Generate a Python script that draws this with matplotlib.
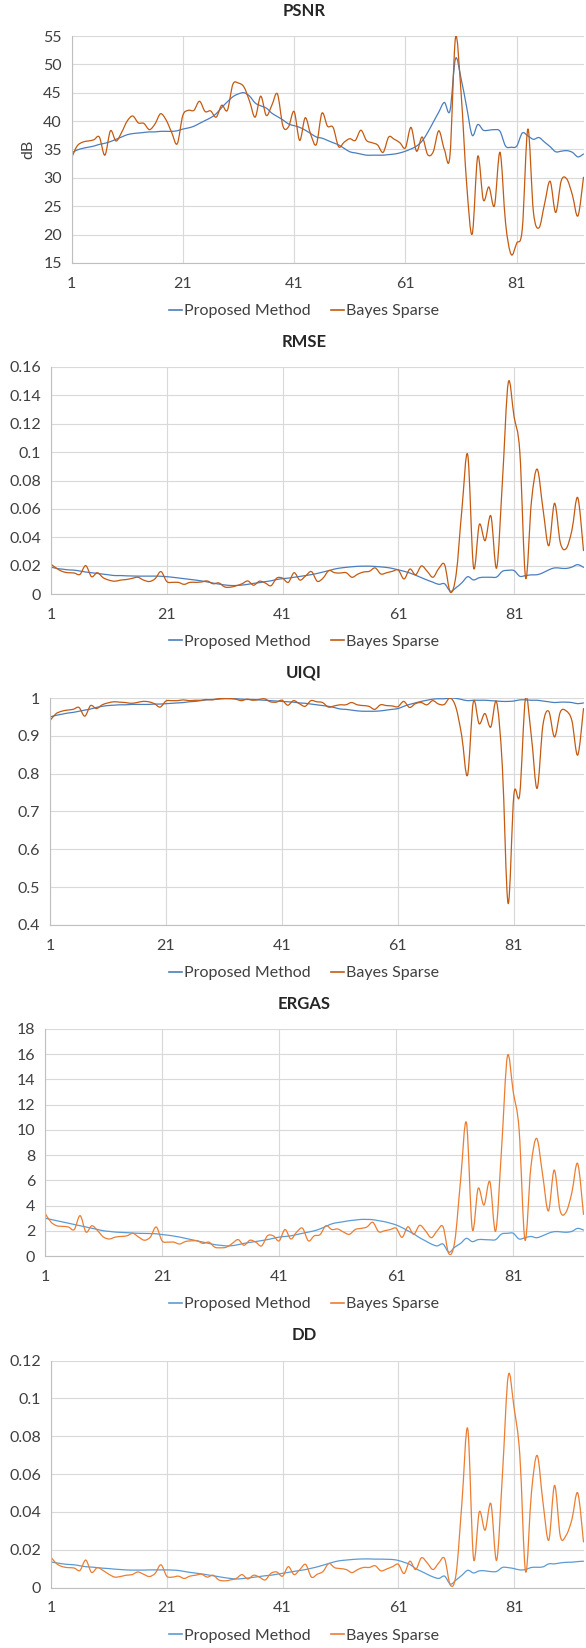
import numpy as np
import matplotlib
matplotlib.use("Agg")
import matplotlib.pyplot as plt
from matplotlib.path import Path
from matplotlib.patches import PathPatch
from matplotlib.lines import Line2D

plt.rcParams['font.family'] = ['Lato', 'DejaVu Sans']

frames = list(range(1, 94))
x_ticks = [1, 21, 41, 61, 81]
series_names = ['Proposed Method', 'Bayes Sparse']

psnr_proposed = [34.4, 34.9, 35.2, 35.4, 35.6, 35.9, 36.1, 36.4, 36.8, 37.2,
                 37.6, 37.8, 37.9, 38.0, 38.1, 38.1, 38.2, 38.2, 38.2, 38.3,
                 38.6, 38.8, 39.1, 39.6, 40.1, 40.6, 41.3, 42.4, 43.4, 44.3,
                 44.8, 45.0, 44.4, 43.2, 42.7, 42.3, 41.4, 40.8, 40.2, 39.5,
                 39.2, 38.9, 38.4, 37.8, 37.2, 37.0, 36.6, 36.2, 35.8, 35.2,
                 34.6, 34.4, 34.2, 34.0, 34.0, 34.0, 34.0, 34.1, 34.2, 34.4,
                 34.7, 35.1, 35.6, 36.5, 38.0, 39.8, 41.6, 43.3, 41.8, 51.0,
                 47.5, 42.5, 37.5, 39.4, 38.4, 38.4, 38.5, 38.2, 35.6, 35.4,
                 35.6, 37.9, 37.4, 36.8, 37.1, 36.3, 35.5, 34.6, 34.7, 34.8,
                 34.5, 33.7, 34.2]
psnr_bayes = [33.5, 35.6, 36.3, 36.5, 36.7, 37.2, 34.0, 38.3, 36.5, 38.0,
              40.0, 40.9, 39.7, 39.6, 38.5, 39.5, 41.3, 40.2, 38.0, 36.0,
              41.0, 41.9, 41.9, 43.5, 41.7, 41.8, 40.7, 42.8, 41.9, 46.5,
              46.7, 46.0, 43.5, 40.7, 44.4, 41.0, 42.8, 44.8, 39.1, 39.0,
              41.7, 36.6, 40.6, 37.6, 35.9, 41.4, 39.1, 38.9, 35.5, 36.3,
              36.9, 36.6, 38.4, 36.6, 36.2, 35.8, 34.5, 37.2, 36.8, 36.2,
              35.3, 38.9, 34.7, 37.2, 34.1, 34.6, 38.3, 35.0, 33.9, 54.7,
              45.0, 29.0, 20.1, 33.8, 26.1, 28.4, 25.1, 34.5, 22.0, 16.5,
              18.5, 21.0, 38.6, 24.0, 21.2, 25.4, 29.4, 23.9, 29.5, 29.8,
              27.0, 23.3, 30.1]

rmse_proposed = [0.0190, 0.0180, 0.0175, 0.0170, 0.0168, 0.0162, 0.0155, 0.0150, 0.0145, 0.0140,
                 0.0135, 0.0130, 0.0130, 0.0128, 0.0127, 0.0126, 0.0126, 0.0126, 0.0126, 0.0125,
                 0.0122, 0.0118, 0.0113, 0.0108, 0.0103, 0.0098, 0.0092, 0.0085, 0.0077, 0.0070,
                 0.0064, 0.0060, 0.0060, 0.0063, 0.0068, 0.0075, 0.0080, 0.0087, 0.0093, 0.0102,
                 0.0108, 0.0112, 0.0118, 0.0124, 0.0130, 0.0137, 0.0145, 0.0155, 0.0165, 0.0176,
                 0.0183, 0.0188, 0.0192, 0.0195, 0.0196, 0.0196, 0.0194, 0.0191, 0.0187, 0.0180,
                 0.0170, 0.0160, 0.0148, 0.0132, 0.0115, 0.0098, 0.0083, 0.0068, 0.0072, 0.0020,
                 0.0045, 0.0080, 0.0122, 0.0099, 0.0115, 0.0118, 0.0118, 0.0120, 0.0160, 0.0167,
                 0.0165, 0.0125, 0.0130, 0.0135, 0.0136, 0.0150, 0.0170, 0.0184, 0.0182, 0.0180,
                 0.0190, 0.0207, 0.0188]
rmse_bayes = [0.0210, 0.0180, 0.0158, 0.0150, 0.0148, 0.0138, 0.0200, 0.0122, 0.0150, 0.0115,
              0.0098, 0.0090, 0.0098, 0.0102, 0.0110, 0.0118, 0.0098, 0.0088, 0.0108, 0.0158,
              0.0088, 0.0082, 0.0082, 0.0068, 0.0082, 0.0082, 0.0085, 0.0092, 0.0072, 0.0078,
              0.0050, 0.0048, 0.0058, 0.0072, 0.0092, 0.0062, 0.0090, 0.0078, 0.0058, 0.0112,
              0.0112, 0.0082, 0.0150, 0.0098, 0.0128, 0.0158, 0.0090, 0.0112, 0.0165, 0.0150,
              0.0148, 0.0150, 0.0118, 0.0140, 0.0155, 0.0160, 0.0184, 0.0141, 0.0150, 0.0160,
              0.0169, 0.0106, 0.0176, 0.0136, 0.0198, 0.0160, 0.0118, 0.0180, 0.0207, 0.0012,
              0.0140, 0.0600, 0.0980, 0.0188, 0.0490, 0.0376, 0.0550, 0.0184, 0.0800, 0.1490,
              0.1250, 0.1000, 0.0113, 0.0650, 0.0880, 0.0600, 0.0340, 0.0640, 0.0360, 0.0320,
              0.0450, 0.0680, 0.0306]

uiqi_proposed = [0.950, 0.954, 0.957, 0.960, 0.962, 0.965, 0.968, 0.971, 0.975, 0.978,
                 0.980, 0.981, 0.982, 0.982, 0.983, 0.983, 0.983, 0.983, 0.984, 0.984,
                 0.985, 0.986, 0.987, 0.988, 0.990, 0.991, 0.993, 0.995, 0.996, 0.997,
                 0.998, 0.998, 0.998, 0.997, 0.996, 0.996, 0.995, 0.994, 0.993, 0.992,
                 0.991, 0.990, 0.989, 0.987, 0.986, 0.984, 0.982, 0.980, 0.978, 0.975,
                 0.971, 0.970, 0.968, 0.966, 0.965, 0.965, 0.965, 0.966, 0.968, 0.970,
                 0.972, 0.978, 0.983, 0.987, 0.991, 0.994, 0.997, 0.998, 0.998, 1.000,
                 0.999, 0.996, 0.993, 0.994, 0.994, 0.994, 0.993, 0.992, 0.991, 0.991,
                 0.992, 0.995, 0.995, 0.994, 0.994, 0.992, 0.990, 0.988, 0.989, 0.989,
                 0.988, 0.985, 0.987]
uiqi_bayes = [0.940, 0.958, 0.965, 0.968, 0.970, 0.975, 0.952, 0.980, 0.972, 0.982,
              0.987, 0.990, 0.989, 0.988, 0.986, 0.988, 0.991, 0.990, 0.985, 0.976,
              0.992, 0.993, 0.993, 0.995, 0.993, 0.994, 0.994, 0.996, 0.995, 0.998,
              0.999, 0.999, 0.997, 0.993, 0.997, 0.994, 0.996, 0.998, 0.990, 0.989,
              0.994, 0.981, 0.993, 0.985, 0.978, 0.993, 0.990, 0.988, 0.976, 0.979,
              0.982, 0.982, 0.988, 0.982, 0.980, 0.978, 0.970, 0.982, 0.980, 0.979,
              0.977, 0.991, 0.975, 0.985, 0.988, 0.982, 0.993, 0.984, 0.983, 1.000,
              0.975, 0.900, 0.796, 0.990, 0.932, 0.959, 0.923, 0.990, 0.820, 0.457,
              0.745, 0.745, 1.000, 0.900, 0.761, 0.928, 0.965, 0.897, 0.963, 0.966,
              0.940, 0.849, 0.972]

ergas_proposed = [3.00, 2.90, 2.80, 2.70, 2.60, 2.50, 2.40, 2.30, 2.20, 2.10,
                  2.00, 1.95, 1.90, 1.87, 1.85, 1.82, 1.80, 1.79, 1.78, 1.76,
                  1.70, 1.65, 1.58, 1.50, 1.40, 1.30, 1.20, 1.10, 1.00, 0.90,
                  0.85, 0.80, 0.82, 0.90, 1.00, 1.08, 1.15, 1.22, 1.30, 1.40,
                  1.50, 1.55, 1.60, 1.70, 1.80, 1.90, 2.00, 2.15, 2.35, 2.55,
                  2.65, 2.72, 2.80, 2.85, 2.90, 2.90, 2.88, 2.80, 2.72, 2.60,
                  2.46, 2.25, 2.00, 1.75, 1.45, 1.20, 0.95, 0.80, 0.95, 0.30,
                  0.70, 1.00, 1.40, 1.14, 1.30, 1.30, 1.28, 1.30, 1.74, 1.80,
                  1.80, 1.35, 1.45, 1.55, 1.45, 1.60, 1.80, 1.93, 1.92, 1.88,
                  1.95, 2.19, 2.06]
ergas_bayes = [3.40, 2.70, 2.40, 2.35, 2.30, 2.10, 3.20, 1.90, 2.40, 2.00,
               1.50, 1.35, 1.50, 1.55, 1.60, 1.80, 1.50, 1.25, 1.50, 2.30,
               1.20, 1.10, 1.10, 0.95, 1.15, 1.20, 1.20, 1.00, 1.10, 0.70,
               0.65, 0.70, 1.00, 1.30, 0.85, 1.25, 1.10, 0.80, 1.60, 1.60,
               1.20, 2.10, 1.35, 1.90, 2.20, 1.20, 1.60, 1.70, 2.40, 2.10,
               2.14, 1.90, 1.72, 2.10, 2.19, 2.30, 2.67, 1.93, 2.00, 2.10,
               2.20, 1.48, 2.32, 1.72, 2.43, 2.00, 1.45, 2.00, 2.32, 0.18,
               1.14, 6.00, 10.57, 2.14, 5.36, 4.04, 5.89, 1.98, 8.50, 15.85,
               13.00, 10.00, 1.27, 7.00, 9.33, 6.50, 3.57, 6.82, 3.60, 3.46,
               5.00, 7.34, 3.30]

dd_proposed = [0.0135, 0.0130, 0.0125, 0.0122, 0.0120, 0.0115, 0.0110, 0.0108, 0.0105, 0.0102,
               0.0100, 0.0097, 0.0095, 0.0093, 0.0092, 0.0092, 0.0092, 0.0093, 0.0093, 0.0093,
               0.0093, 0.0092, 0.0090, 0.0085, 0.0080, 0.0076, 0.0072, 0.0067, 0.0062, 0.0057,
               0.0052, 0.0048, 0.0045, 0.0047, 0.0050, 0.0054, 0.0058, 0.0062, 0.0065, 0.0070,
               0.0075, 0.0080, 0.0085, 0.0090, 0.0095, 0.0102, 0.0109, 0.0118, 0.0127, 0.0136,
               0.0142, 0.0145, 0.0148, 0.0150, 0.0151, 0.0151, 0.0150, 0.0150, 0.0149, 0.0148,
               0.0143, 0.0133, 0.0122, 0.0100, 0.0085, 0.0070, 0.0056, 0.0048, 0.0060, 0.0018,
               0.0040, 0.0065, 0.0091, 0.0077, 0.0088, 0.0088, 0.0084, 0.0085, 0.0106, 0.0105,
               0.0100, 0.0093, 0.0095, 0.0106, 0.0107, 0.0109, 0.0125, 0.0125, 0.0130, 0.0133,
               0.0134, 0.0137, 0.0139]
dd_bayes = [0.0160, 0.0125, 0.0110, 0.0105, 0.0103, 0.0090, 0.0145, 0.0080, 0.0105, 0.0090,
            0.0070, 0.0055, 0.0058, 0.0065, 0.0068, 0.0082, 0.0070, 0.0058, 0.0075, 0.0120,
            0.0060, 0.0055, 0.0060, 0.0048, 0.0060, 0.0065, 0.0070, 0.0055, 0.0065, 0.0040,
            0.0035, 0.0040, 0.0048, 0.0068, 0.0045, 0.0065, 0.0055, 0.0040, 0.0075, 0.0082,
            0.0060, 0.0110, 0.0068, 0.0095, 0.0122, 0.0055, 0.0070, 0.0085, 0.0127, 0.0105,
            0.0100, 0.0095, 0.0079, 0.0095, 0.0106, 0.0106, 0.0115, 0.0088, 0.0098, 0.0110,
            0.0123, 0.0074, 0.0139, 0.0095, 0.0157, 0.0130, 0.0095, 0.0130, 0.0153, 0.0012,
            0.0074, 0.0450, 0.0839, 0.0153, 0.0400, 0.0303, 0.0443, 0.0144, 0.0600, 0.1120,
            0.0950, 0.0700, 0.0083, 0.0500, 0.0698, 0.0450, 0.0250, 0.0540, 0.0270, 0.0276,
            0.0360, 0.0500, 0.0241]

psnr_ticks = [15, 20, 25, 30, 35, 40, 45, 50, 55]
rmse_ticks = [0, 0.02, 0.04, 0.06, 0.08, 0.1, 0.12, 0.14, 0.16]
uiqi_ticks = [0.4, 0.5, 0.6, 0.7, 0.8, 0.9, 1]
ergas_ticks = [0, 2, 4, 6, 8, 10, 12, 14, 16, 18]
dd_ticks = [0, 0.02, 0.04, 0.06, 0.08, 0.1, 0.12]

# figure layout in pixels (586 x 1648)
W, H = 586.0, 1648.0
dark = ('#4A7EBF', '#C55A11')
light = ('#5B9BD5', '#ED7D31')
panels = [
    dict(title='PSNR', a=psnr_proposed, b=psnr_bayes, ticks=psnr_ticks, left=71.5, top=36, colors=dark, ylabel='dB'),
    dict(title='RMSE', a=rmse_proposed, b=rmse_bayes, ticks=rmse_ticks, left=51, top=367, colors=dark),
    dict(title='UIQI', a=uiqi_proposed, b=uiqi_bayes, ticks=uiqi_ticks, left=50, top=698, colors=dark),
    dict(title='ERGAS', a=ergas_proposed, b=ergas_bayes, ticks=ergas_ticks, left=45, top=1029, colors=light),
    dict(title='DD', a=dd_proposed, b=dd_bayes, ticks=dd_ticks, left=51, top=1360.5, colors=light),
]
plot_h = 227
right = 583.5


def smooth_path(xs, ys):
    # excel-like smoothed line: cubic bezier through every data point
    pts = np.column_stack([np.asarray(xs, float), np.asarray(ys, float)])
    n = len(pts)
    verts = [pts[0]]
    codes = [Path.MOVETO]
    for i in range(n - 1):
        p0 = pts[i - 1] if i > 0 else pts[i]
        p1 = pts[i]
        p2 = pts[i + 1]
        p3 = pts[i + 2] if i + 2 < n else pts[i + 1]
        verts += [p1 + (p2 - p0) / 6.0, p2 - (p3 - p1) / 6.0, p2]
        codes += [Path.CURVE4] * 3
    return Path(verts, codes)


fig = plt.figure(figsize=(W / 100, H / 100), dpi=100)
text_col = '#404040'

for p in panels:
    top = p['top']
    ax = fig.add_axes([p['left'] / W, 1 - (top + plot_h) / H, (right - p['left']) / W, plot_h / H])
    ax.set_xlim(1, 93)
    ax.set_ylim(p['ticks'][0], p['ticks'][-1])
    ax.set_yticks(p['ticks'])
    ax.set_yticklabels([f'{t:g}' for t in p['ticks']])
    ax.set_xticks(x_ticks)
    ax.set_xticklabels([str(t) for t in x_ticks])
    ax.grid(True, color='#D9D9D9', lw=0.8)
    ax.set_axisbelow(True)
    for s in ['top', 'right']:
        ax.spines[s].set_visible(False)
    for s in ['left', 'bottom']:
        ax.spines[s].set_color('#BFBFBF')
        ax.spines[s].set_linewidth(0.8)
    ax.tick_params(axis='both', length=0, labelsize=11.5, labelcolor=text_col)
    ax.tick_params(axis='x', pad=10)
    ax.tick_params(axis='y', pad=7)

    for vals, col in zip([p['a'], p['b']], p['colors']):
        ax.add_patch(PathPatch(smooth_path(frames, vals), fill=False, edgecolor=col, lw=0.9,
                               capstyle='round', joinstyle='round'))

    fig.text(304 / W, 1 - (top - 25) / H, p['title'], ha='center', va='center',
             fontsize=12, fontweight='bold', color='#262626')
    if 'ylabel' in p:
        fig.text(28 / W, 1 - (top + 113) / H, p['ylabel'], rotation=90, ha='center', va='center',
                 fontsize=11.5, color=text_col)

    handles = [Line2D([], [], color=c, lw=1.2) for c in p['colors']]
    fig.legend(handles, series_names, loc='center', bbox_to_anchor=(304 / W, 1 - (top + 275) / H),
               ncol=2, frameon=False, handlelength=0.8, handletextpad=0.1, columnspacing=1.3,
               fontsize=11.5, labelcolor=text_col)

fig.savefig('out.png', dpi=100)
